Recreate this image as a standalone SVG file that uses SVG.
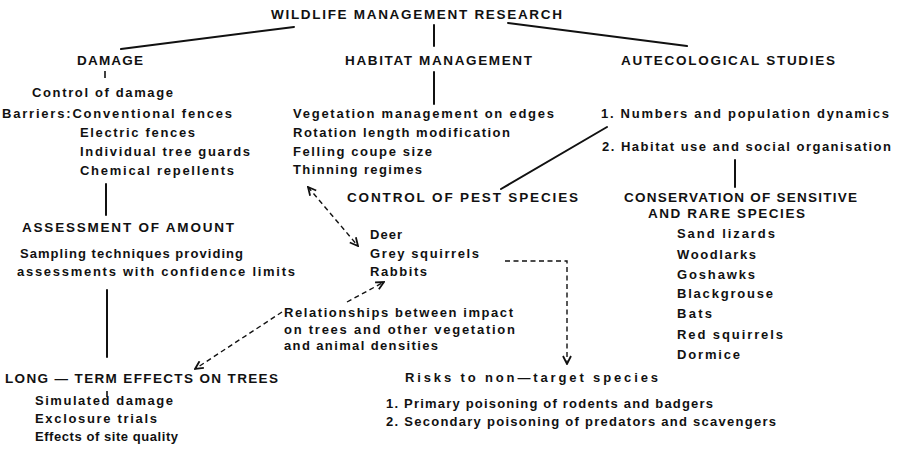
<svg xmlns="http://www.w3.org/2000/svg" width="900" height="451" viewBox="0 0 900 451">
<defs>
<style>
text{font-family:"Liberation Sans",Arial,sans-serif;font-weight:bold;fill:#111;font-size:13px}
.h{font-size:13.5px}
.ln{stroke:#111;stroke-width:2;fill:none;stroke-linecap:round}
.tk{stroke:#111;stroke-width:1.6;fill:none}
.da{stroke:#111;stroke-width:1.4;fill:none;stroke-dasharray:5 3.5}
</style>
<marker id="ah" viewBox="0 0 10 10" refX="9" refY="5" markerWidth="10" markerHeight="10" markerUnits="userSpaceOnUse" orient="auto-start-reverse">
<path d="M1,1 L9,5 L1,9" fill="none" stroke="#111" stroke-width="1.8"/>
</marker>
</defs>
<rect width="900" height="451" fill="#fff"/>
<g id="connectors">
<line class="ln" x1="294" y1="27" x2="121" y2="49"/>
<line class="ln" x1="434" y1="25" x2="434" y2="46"/>
<line class="ln" x1="508" y1="23" x2="687" y2="46"/>
<line class="tk" x1="105" y1="71" x2="105" y2="78"/>
<line class="ln" x1="434" y1="72" x2="434" y2="104"/>
<line class="ln" x1="501" y1="189" x2="607" y2="127"/>
<line class="ln" x1="735" y1="160" x2="735" y2="187"/>
<line class="ln" x1="106" y1="184" x2="106" y2="215"/>
<line class="ln" x1="107" y1="290" x2="107" y2="357"/>
<line class="tk" x1="107" y1="391" x2="107" y2="397"/>
<line class="da" x1="308" y1="187" x2="358" y2="246" marker-start="url(#ah)" marker-end="url(#ah)"/>
<line class="da" x1="347" y1="302" x2="384" y2="282" marker-end="url(#ah)"/>
<line class="da" x1="282" y1="312" x2="195" y2="369" marker-end="url(#ah)"/>
<path class="da" d="M505,261 H567 V364" marker-end="url(#ah)"/>
</g>
<g id="title"><text class="h" x="271" y="19" textLength="291" lengthAdjust="spacing">WILDLIFE MANAGEMENT RESEARCH</text></g>
<g id="damage">
<text class="h" x="77" y="65" textLength="66" lengthAdjust="spacing">DAMAGE</text>
<text x="32" y="97" textLength="141" lengthAdjust="spacing">Control of damage</text>
<text x="2" y="118" textLength="230" lengthAdjust="spacing">Barriers:Conventional fences</text>
<text x="80" y="137" textLength="115" lengthAdjust="spacing">Electric fences</text>
<text x="80" y="156" textLength="170" lengthAdjust="spacing">Individual tree guards</text>
<text x="80" y="175" textLength="154" lengthAdjust="spacing">Chemical repellents</text>
</g>
<g id="assessment">
<text class="h" x="22" y="232" textLength="212" lengthAdjust="spacing">ASSESSMENT OF AMOUNT</text>
<text x="20" y="258" textLength="223" lengthAdjust="spacing">Sampling techniques providing</text>
<text x="17" y="276" textLength="278" lengthAdjust="spacing">assessments with confidence limits</text>
</g>
<g id="habitat">
<text class="h" x="345" y="65" textLength="187" lengthAdjust="spacing">HABITAT MANAGEMENT</text>
<text x="293" y="118" textLength="261" lengthAdjust="spacing">Vegetation management on edges</text>
<text x="293" y="137" textLength="217" lengthAdjust="spacing">Rotation length modification</text>
<text x="293" y="156" textLength="139" lengthAdjust="spacing">Felling coupe size</text>
<text x="293" y="174" textLength="129" lengthAdjust="spacing">Thinning regimes</text>
</g>
<g id="autecological">
<text class="h" x="621" y="65" textLength="214" lengthAdjust="spacing">AUTECOLOGICAL STUDIES</text>
<text x="601" y="118" textLength="288" lengthAdjust="spacing">1. Numbers and population dynamics</text>
<text x="602" y="151" textLength="289" lengthAdjust="spacing">2. Habitat use and social organisation</text>
</g>
<g id="pest-control">
<text class="h" x="347" y="202" textLength="231" lengthAdjust="spacing">CONTROL OF PEST SPECIES</text>
<text x="370" y="239" textLength="32" lengthAdjust="spacing">Deer</text>
<text x="370" y="258" textLength="109" lengthAdjust="spacing">Grey squirrels</text>
<text x="370" y="276" textLength="57" lengthAdjust="spacing">Rabbits</text>
</g>
<g id="conservation">
<text class="h" x="624" y="202" textLength="233" lengthAdjust="spacing">CONSERVATION OF SENSITIVE</text>
<text class="h" x="648" y="218" textLength="157" lengthAdjust="spacing">AND RARE SPECIES</text>
<text x="677" y="238" textLength="98" lengthAdjust="spacing">Sand lizards</text>
<text x="677" y="259" textLength="79" lengthAdjust="spacing">Woodlarks</text>
<text x="677" y="279" textLength="78" lengthAdjust="spacing">Goshawks</text>
<text x="677" y="298" textLength="96" lengthAdjust="spacing">Blackgrouse</text>
<text x="677" y="318" textLength="35" lengthAdjust="spacing">Bats</text>
<text x="677" y="339" textLength="106" lengthAdjust="spacing">Red squirrels</text>
<text x="677" y="359" textLength="63" lengthAdjust="spacing">Dormice</text>
</g>
<g id="relationships">
<text x="284" y="317" textLength="229" lengthAdjust="spacing">Relationships between impact</text>
<text x="284" y="334" textLength="231" lengthAdjust="spacing">on trees and other vegetation</text>
<text x="284" y="350" textLength="154" lengthAdjust="spacing">and animal densities</text>
</g>
<g id="risks">
<text x="405" y="382" textLength="253" lengthAdjust="spacing">Risks to non—target species</text>
<text x="386" y="408" textLength="327" lengthAdjust="spacing">1. Primary poisoning of rodents and badgers</text>
<text x="386" y="426" textLength="390" lengthAdjust="spacing">2. Secondary poisoning of predators and scavengers</text>
</g>
<g id="long-term">
<text class="h" x="5" y="383" textLength="273" lengthAdjust="spacing">LONG — TERM EFFECTS ON TREES</text>
<text x="35" y="405" textLength="138" lengthAdjust="spacing">Simulated damage</text>
<text x="35" y="423" textLength="122" lengthAdjust="spacing">Exclosure trials</text>
<text x="35" y="441" textLength="143" lengthAdjust="spacing">Effects of site quality</text>
</g>
</svg>
